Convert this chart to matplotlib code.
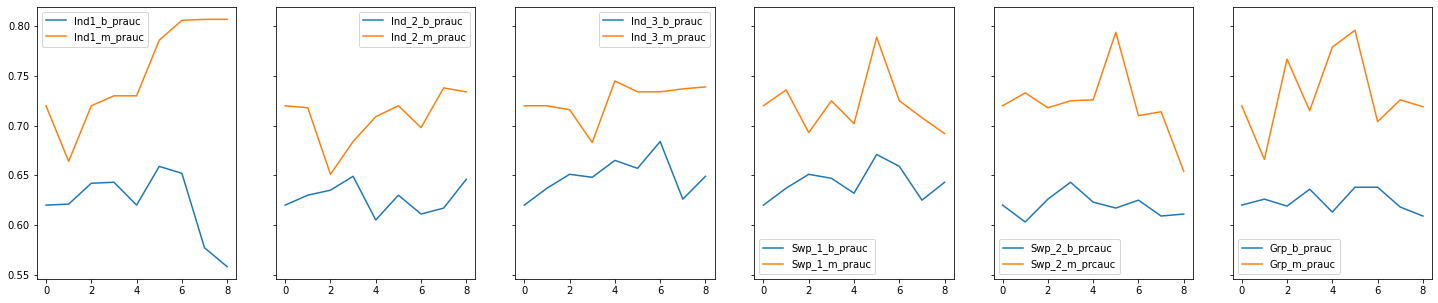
import numpy as np
import matplotlib
matplotlib.use('Agg')
import matplotlib.pyplot as plt

# Valores (9 iteraciones por panel)
x = np.arange(9)

ind1_b = [0.620, 0.621, 0.642, 0.643, 0.620, 0.659, 0.652, 0.577, 0.558]
ind1_m = [0.720, 0.664, 0.720, 0.730, 0.730, 0.786, 0.806, 0.807, 0.807]
ind2_b = [0.620, 0.630, 0.635, 0.649, 0.605, 0.630, 0.611, 0.617, 0.646]
ind2_m = [0.720, 0.718, 0.651, 0.684, 0.709, 0.720, 0.698, 0.738, 0.734]
ind3_b = [0.620, 0.637, 0.651, 0.648, 0.665, 0.657, 0.684, 0.626, 0.649]
ind3_m = [0.720, 0.720, 0.716, 0.683, 0.745, 0.734, 0.734, 0.737, 0.739]
swp1_b = [0.620, 0.637, 0.651, 0.647, 0.632, 0.671, 0.659, 0.625, 0.643]
swp1_m = [0.720, 0.736, 0.693, 0.725, 0.702, 0.789, 0.725, 0.708, 0.692]
swp2_b = [0.620, 0.603, 0.626, 0.643, 0.623, 0.617, 0.625, 0.609, 0.611]
swp2_m = [0.720, 0.733, 0.718, 0.725, 0.726, 0.794, 0.710, 0.714, 0.654]
grp_b = [0.620, 0.626, 0.619, 0.636, 0.613, 0.638, 0.638, 0.618, 0.609]
grp_m = [0.720, 0.666, 0.767, 0.715, 0.779, 0.796, 0.704, 0.726, 0.719]

labels_b = ['Ind1_b_prauc', 'Ind_2_b_prauc', 'Ind_3_b_prauc',
            'Swp_1_b_prauc', 'Swp_2_b_prcauc', 'Grp_b_prauc']
labels_m = ['Ind1_m_prauc', 'Ind_2_m_prauc', 'Ind_3_m_prauc',
            'Swp_1_m_prauc', 'Swp_2_m_prcauc', 'Grp_m_prauc']
series_b = [ind1_b, ind2_b, ind3_b, swp1_b, swp2_b, grp_b]
series_m = [ind1_m, ind2_m, ind3_m, swp1_m, swp2_m, grp_m]
legend_locs = ['upper left', 'upper right', 'upper right',
               'lower left', 'lower left', 'lower left']

fig, axes = plt.subplots(1, 6, sharey=True, figsize=(1438 / 72, 303 / 72), dpi=72)
fig.subplots_adjust(left=0.0257, right=0.9958, top=0.977, bottom=0.079, wspace=0.2)

for ax, b, m, lb, lm, loc in zip(axes, series_b, series_m, labels_b, labels_m, legend_locs):
    ax.plot(x, b, label=lb, color='tab:blue')
    ax.plot(x, m, label=lm, color='tab:orange')
    ax.set_xticks([0, 2, 4, 6, 8])
    ax.legend(loc=loc)

axes[0].set_yticks([0.55, 0.60, 0.65, 0.70, 0.75, 0.80])

fig.savefig('out.png', dpi=72)
